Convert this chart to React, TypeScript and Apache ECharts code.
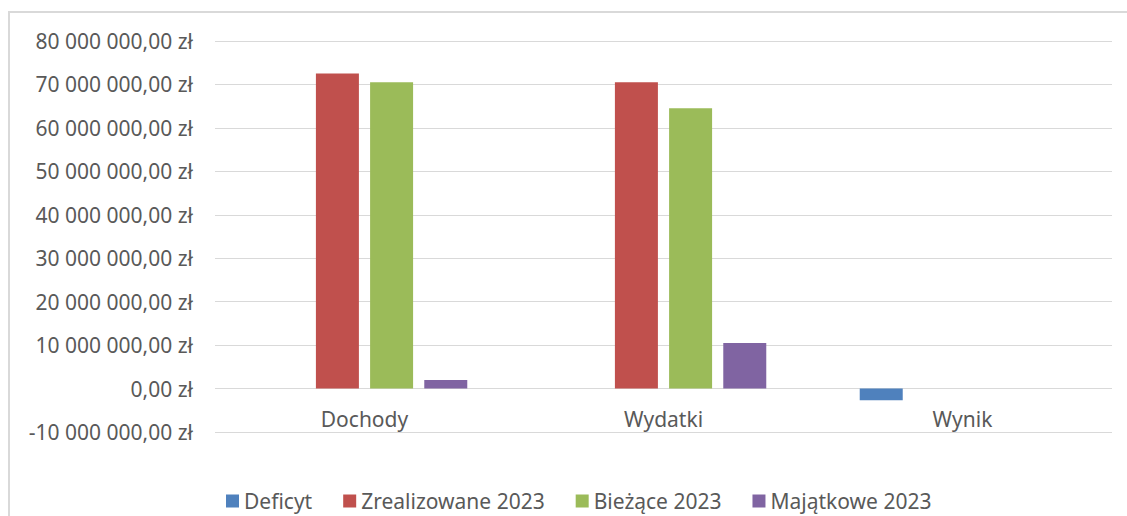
import React, { useEffect, useRef } from "react";
import * as echarts from "echarts";

const categories = ["Dochody", "Wydatki", "Wynik"];
const seriesNames = ["Deficyt", "Zrealizowane 2023", "Bieżące 2023", "Majątkowe 2023"];
const deficyt = ["-", "-", -2700000];
const zrealizowane = [72500000, 70500000, "-"];
const biezace = [70500000, 64500000, "-"];
const majatkowe = [1950000, 10500000, "-"];
const colors = ["#4f81bd", "#c0504d", "#9bbb59", "#8064a2"];
const yMin = -10000000;
const yMax = 80000000;
const yStep = 10000000;

const FONT = "'Noto Sans', 'Open Sans', sans-serif";
const TEXT = "#595959";
const GRID = "#d9d9d9";

function formatPln(v: number): string {
  const neg = v < 0;
  const abs = Math.abs(Math.round(v));
  const s = String(abs).replace(/\B(?=(\d{3})+(?!\d))/g, " ");
  return (neg ? "-" : "") + s + ",00 zł";
}

export default function App() {
  const ref = useRef<HTMLDivElement>(null);
  useEffect(() => {
    if (!ref.current) return;
    const chart = echarts.init(ref.current, undefined, { renderer: "svg" });
    const dataSets = [deficyt, zrealizowane, biezace, majatkowe];
    const gridTop = 41;
    const gridBottom = 84;
    const plotH = 516 - gridTop - gridBottom;
    const zeroOffset = (plotH * (0 - yMin)) / (yMax - yMin);
    chart.setOption({
      animation: false,
      backgroundColor: "#ffffff",
      graphic: [
        {
          type: "rect",
          shape: { x: 9, y: 12, width: 1300, height: 700 },
          style: { fill: "none", stroke: GRID, lineWidth: 2 },
          silent: true,
          z: -1,
        },
      ],
      grid: { left: 215, right: 15, top: gridTop, bottom: gridBottom, containLabel: false },
      legend: {
        left: 221,
        top: 484,
        itemWidth: 13,
        itemHeight: 13,
        itemGap: 31,
        icon: "rect",
        data: seriesNames,
        textStyle: { color: TEXT, fontSize: 21, fontFamily: FONT, lineHeight: 24 },
      },
      xAxis: {
        type: "category",
        data: categories,
        position: "bottom",
        offset: -zeroOffset,
        axisLine: { show: false, onZero: false },
        axisTick: { show: false },
        axisLabel: { color: TEXT, fontSize: 21, fontFamily: FONT, margin: 20 },
      },
      yAxis: {
        type: "value",
        min: yMin,
        max: yMax,
        interval: yStep,
        axisLine: { show: false },
        axisTick: { show: false },
        splitLine: { lineStyle: { color: GRID, width: 1 } },
        axisLabel: {
          color: TEXT,
          fontSize: 21,
          fontFamily: FONT,
          margin: 22,
          formatter: (v: number) => formatPln(v),
        },
      },
      series: seriesNames.map((name, i) => ({
        name,
        type: "bar",
        data: dataSets[i],
        barWidth: 43,
        barGap: "26%",
        itemStyle: { color: colors[i] },
      })),
    });
    return () => chart.dispose();
  }, []);
  return (
    <div
      ref={ref}
      style={{ position: "absolute", left: 0, top: 0, width: 1127, height: 516 }}
    />
  );
}
